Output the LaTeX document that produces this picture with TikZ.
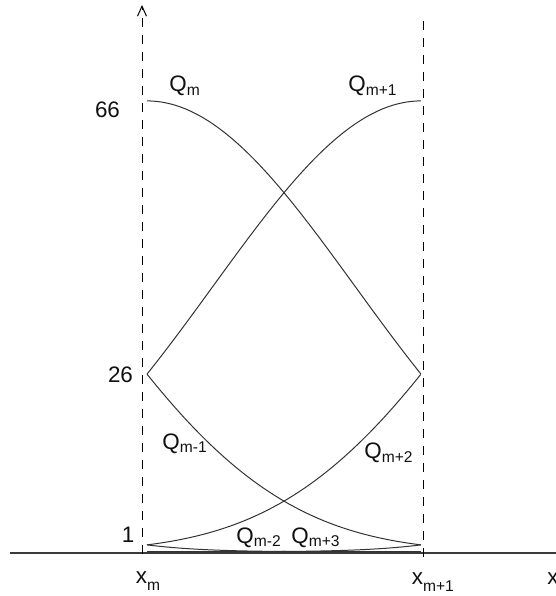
\documentclass[tikz,border=0pt]{standalone}
\usepackage{fontspec}
\setmainfont{Liberation Sans}
\usetikzlibrary{arrows.meta}
\definecolor{curveInk}{HTML}{333333}
\definecolor{axisInk}{HTML}{3A3A3A}
\definecolor{inkText}{HTML}{111111}
% lowered subscript, as the picture sets it
\newcommand{\lowsub}[2][2]{\raisebox{-#1pt}{\fontsize{7.8}{9}\selectfont #2}}

\begin{document}
\begin{tikzpicture}[
  x=0.5pt, y=0.5pt,
  font=\fontsize{11.2}{13}\selectfont,
  every node/.style={text=inkText, inner sep=0pt},
  lbl/.style={anchor=base west},
  tick/.style={anchor=center},
  basis/.style={draw=curveInk, line width=0.5pt, line join=round},
  guide/.style={draw=black, line width=0.5pt, dash pattern=on 4.25pt off 4.25pt},
  axis/.style={draw=axisInk, line width=0.7pt},
  upArrow/.style={-{Straight Barb[length=5pt,width=4.5pt]}},
]
\useasboundingbox (0,0) rectangle (556,596);

% ---------------- COORDINATES ----------------
\coordinate (axisL) at (10,43);
\coordinate (axisR) at (556,43);
\coordinate (xmBot) at (142,42);
\coordinate (xmTop) at (142,591);
\coordinate (xnBot) at (423,39);
\coordinate (xnTop) at (423,576);

% ---------------- AXES ----------------
\draw[axis] (axisL) -- (axisR);
\draw[guide, upArrow] (xmBot) -- (xmTop);
\draw[guide] (xnBot) -- (xnTop);

% ---------------- BASIS CURVES (t from x_m to x_{m+1}) ----------------
\draw[basis] plot[domain=0:1, samples=80]
  ({147+274*\x}, {44.3+6.83*pow(1-\x,5)});
\draw[basis] plot[domain=0:1, samples=80]
  ({147+274*\x}, {44.3+6.83*(26-50*\x+20*pow(\x,2)+20*pow(\x,3)-20*pow(\x,4)+5*pow(\x,5))});
\draw[basis] plot[domain=0:1, samples=80]
  ({147+274*\x}, {44.3+6.83*(66-60*pow(\x,2)+30*pow(\x,4)-10*pow(\x,5))});
\draw[basis] plot[domain=0:1, samples=80]
  ({147+274*\x}, {44.3+6.83*(26+50*\x+20*pow(\x,2)-20*pow(\x,3)-20*pow(\x,4)+10*pow(\x,5))});
\draw[basis] plot[domain=0:1, samples=80]
  ({147+274*\x}, {44.3+6.83*(1+5*\x+10*pow(\x,2)+10*pow(\x,3)+5*pow(\x,4)-5*pow(\x,5))});
\draw[basis] plot[domain=0:1, samples=80]
  ({147+274*\x}, {44.3+6.83*pow(\x,5)});

% ---------------- VALUE TICKS ----------------
\node[tick] (v66) at (107.5,486) {66};
\node[tick] (v26) at (120.5,221) {26};
\node[tick] (v1) at (128,61) {1};

% ---------------- CURVE LABELS ----------------
\node[lbl] (Qm) at (169,504) {Q\lowsub{m}};
\node[lbl] (Qmp1) at (348,504) {Q\lowsub{m+1}};
\node[lbl] (Qmm1) at (162,147) {Q\lowsub{m-1}};
\node[lbl] (Qmp2) at (364,137) {Q\lowsub{m+2}};
\node[lbl] (Qmm2) at (236,53) {Q\lowsub{m-2}};
\node[lbl] (Qmp3) at (291,53) {Q\lowsub{m+3}};

% ---------------- KNOT LABELS ----------------
\node[lbl] (xm) at (135.5,12) {x\lowsub[3.5]{m}};
\node[lbl] (xmp1) at (411.5,11) {x\lowsub[3.5]{m+1}};
\node[lbl] (xend) at (547,11) {x};
\end{tikzpicture}
\end{document}
